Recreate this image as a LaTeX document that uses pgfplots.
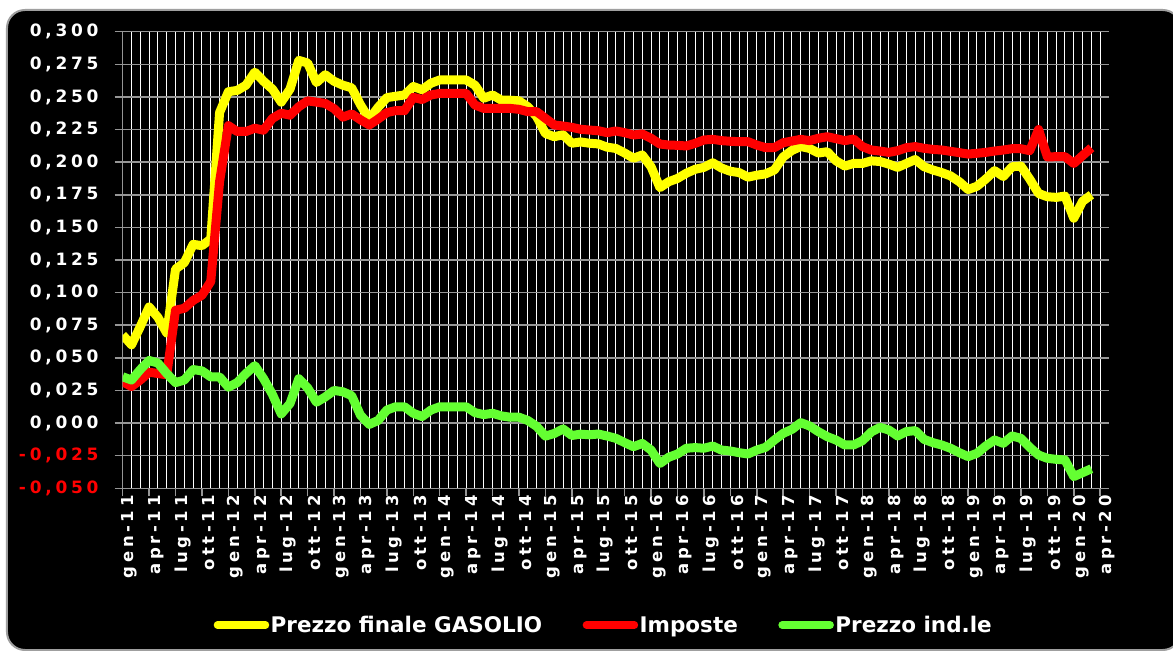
\documentclass[border=0pt]{standalone}
\usepackage{pgfplots}
\pgfplotsset{compat=1.18}
\usepackage{pgfplotstable}
\usepackage{fontspec}
\setmainfont{DejaVu Sans}
\newfontfamily\lblfont{DejaVu Sans}[LetterSpace=22]
\definecolor{cyel}{RGB}{255,255,0}
\definecolor{cred}{RGB}{255,0,0}
\definecolor{cgrn}{RGB}{100,255,50}
\definecolor{gridgray}{RGB}{150,150,150}

\pgfplotstableread{
m y r g
0 0.0675 0.0317 0.0355
1 0.060 0.028 0.033
2 0.074 0.033 0.041
3 0.089 0.039 0.048
4 0.081 0.038 0.046
5 0.069 0.037 0.038
6 0.118 0.0865 0.031
7 0.123 0.088 0.033
8 0.137 0.094 0.041
9 0.136 0.098 0.040
10 0.141 0.1085 0.0354
11 0.238 0.185 0.0354
12 0.254 0.228 0.0275
13 0.255 0.2235 0.031
14 0.259 0.2235 0.038
15 0.269 0.226 0.044
16 0.262 0.2245 0.034
17 0.256 0.2335 0.022
18 0.246 0.2375 0.007
19 0.256 0.236 0.015
20 0.278 0.2425 0.034
21 0.276 0.247 0.027
22 0.261 0.246 0.016
23 0.267 0.245 0.020
24 0.262 0.241 0.025
25 0.259 0.2345 0.024
26 0.257 0.237 0.021
27 0.244 0.2325 0.006
28 0.233 0.2285 -0.001
29 0.242 0.233 0.002
30 0.2495 0.238 0.010
31 0.2505 0.2395 0.0125
32 0.2515 0.2395 0.0125
33 0.258 0.2497 0.0075
34 0.2555 0.248 0.005
35 0.2605 0.2515 0.010
36 0.263 0.2527 0.0125
37 0.263 0.2527 0.0125
38 0.263 0.2527 0.0125
39 0.263 0.2527 0.0125
40 0.259 0.2438 0.008
41 0.249 0.2412 0.0065
42 0.2515 0.2412 0.0075
43 0.2475 0.2412 0.0055
44 0.2475 0.2412 0.0045
45 0.247 0.2405 0.0045
46 0.2425 0.2387 0.002
47 0.235 0.2387 -0.0025
48 0.222 0.2336 -0.010
49 0.2195 0.2285 -0.008
50 0.221 0.2277 -0.0045
51 0.2145 0.2267 -0.0095
52 0.2155 0.2252 -0.0085
53 0.2145 0.2246 -0.009
54 0.214 0.2241 -0.0084
55 0.2115 0.2226 -0.0099
56 0.2105 0.2239 -0.0117
57 0.207 0.2226 -0.015
58 0.203 0.2208 -0.0181
59 0.2055 0.2216 -0.0156
60 0.1965 0.2183 -0.0207
61 0.1805 0.2139 -0.031
62 0.185 0.2131 -0.0262
63 0.1875 0.2129 -0.0237
64 0.1915 0.2124 -0.0193
65 0.1945 0.2144 -0.0188
66 0.196 0.217 -0.0193
67 0.1995 0.2175 -0.0176
68 0.1955 0.2165 -0.0207
69 0.193 0.216 -0.0214
70 0.192 0.2157 -0.0227
71 0.1885 0.2157 -0.0237
72 0.190 0.2131 -0.0207
73 0.191 0.2111 -0.0186
74 0.194 0.2111 -0.013
75 0.204 0.2149 -0.0079
76 0.209 0.2162 -0.0048
77 0.212 0.2175 0.0003
78 0.2105 0.2165 -0.0022
79 0.207 0.2183 -0.0066
80 0.208 0.2195 -0.0104
81 0.201 0.218 -0.013
82 0.197 0.2165 -0.0168
83 0.199 0.2177 -0.0168
84 0.199 0.2119 -0.0135
85 0.201 0.2093 -0.0068
86 0.2005 0.2085 -0.0033
87 0.1985 0.2075 -0.0053
88 0.196 0.2088 -0.0099
89 0.199 0.2111 -0.0065
90 0.202 0.2119 -0.0058
91 0.1965 0.2106 -0.0125
92 0.194 0.2098 -0.015
93 0.192 0.2093 -0.0168
94 0.1895 0.2083 -0.0193
95 0.185 0.2073 -0.0227
96 0.179 0.2062 -0.0257
97 0.1815 0.2068 -0.0232
98 0.187 0.2075 -0.0176
99 0.1935 0.2085 -0.013
100 0.189 0.2093 -0.0155
101 0.1965 0.2103 -0.0099
102 0.197 0.2103 -0.0117
103 0.187 0.2088 -0.0186
104 0.176 0.225 -0.0245
105 0.1735 0.204 -0.027
106 0.173 0.2042 -0.0278
107 0.174 0.2042 -0.0283
108 0.157 0.199 -0.041
109 0.170 0.205 -0.038
110 0.175 0.211 -0.035
}\datatable

\begin{document}
\begin{tikzpicture}
\useasboundingbox (-122.7bp,-162.7bp) rectangle (1050.3bp,488.3bp);
\fill[white] (-122.7bp,-162.7bp) rectangle (1050.3bp,488.3bp);
\filldraw[fill=black, draw=gray!75, line width=2bp, rounded corners=18bp] (-115.7bp,-161.7bp) rectangle (1058bp,478.3bp);
\begin{axis}[
  scale only axis, width=986.3bp, height=456.6bp,
  xmin=0, xmax=112, ymin=-0.05, ymax=0.3,
  axis x line*=bottom, axis y line*=left,
  axis line style={draw=gridgray, line width=1.5bp, -},
  xtick={0,3,...,111},
  xticklabels={gen-11,apr-11,lug-11,ott-11,gen-12,apr-12,lug-12,ott-12,gen-13,apr-13,lug-13,ott-13,gen-14,apr-14,lug-14,ott-14,gen-15,apr-15,lug-15,ott-15,gen-16,apr-16,lug-16,ott-16,gen-17,apr-17,lug-17,ott-17,gen-18,apr-18,lug-18,ott-18,gen-19,apr-19,lug-19,ott-19,gen-20,apr-20},
  minor xtick={1,...,111},
  ytick={-0.05,-0.025,0,0.025,0.05,0.075,0.1,0.125,0.15,0.175,0.2,0.225,0.25,0.275,0.3},
  yticklabels={{\color{cred}-0,050},{\color{cred}-0,025},{0,000},{0,025},{0,050},{0,075},{0,100},{0,125},{0,150},{0,175},{0,200},{0,225},{0,250},{0,275},{0,300}},
  xmajorgrids, xminorgrids, ymajorgrids,
  x grid style={white, line width=1bp},
  y grid style={gridgray, line width=1.5bp},
  tick align=outside,
  major tick length=8bp, minor tick length=0pt,
  tick style={gridgray, line width=1.5bp},
  x tick label style={rotate=90, anchor=east, text=white, font=\lblfont\bfseries\fontsize{16.5bp}{17bp}\selectfont, xshift=6bp, yshift=-7bp, inner sep=5bp},
  y tick label style={text=white, font=\lblfont\bfseries\fontsize{17bp}{17bp}\selectfont, inner sep=6bp, xshift=-10bp},
  legend columns=3,
  legend style={at={(0.4875,-0.2994)}, anchor=center, draw=none, fill=none, text=white,
    font=\bfseries\fontsize{21.5bp}{24bp}\selectfont,
    /tikz/every even column/.append style={column sep=39bp},
    nodes={inner sep=1.5bp}},
  legend image code/.code={\draw[#1, line width=7.5bp, line cap=round] (0bp,0bp) -- (48bp,0bp);},
  no markers,
]
\addplot[cyel, line width=9bp, line join=round] table[x=m, y=y] {\datatable};
\addlegendentry{Prezzo finale GASOLIO}
\addplot[cred, line width=9bp, line join=round] table[x=m, y=r] {\datatable};
\addlegendentry{Imposte}
\addplot[cgrn, line width=9bp, line join=round] table[x=m, y=g] {\datatable};
\addlegendentry{Prezzo ind.le}
\end{axis}
\end{tikzpicture}
\end{document}
